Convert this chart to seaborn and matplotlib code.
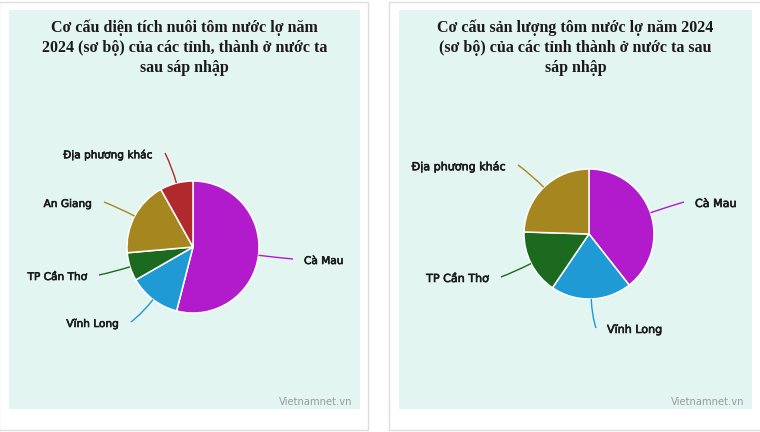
# Cơ cấu diện tích và sản lượng tôm nước lợ 2024 - hai biểu đồ tròn

import numpy as np
import matplotlib
matplotlib.use("Agg")
import matplotlib.pyplot as plt
import matplotlib.patheffects as pe
import seaborn as sns
from matplotlib.patches import Rectangle, PathPatch
from matplotlib.path import Path

sns.set_theme(style="white")
plt.rcParams["font.family"] = ["DejaVu Sans"]

# Dữ liệu (%)
tinh_dien_tich = ["Cà Mau", "Vĩnh Long", "TP Cần Thơ", "An Giang", "Địa phương khác"]
ty_le_dien_tich = [54.0, 12.7, 6.9, 18.3, 8.1]

tinh_san_luong = ["Cà Mau", "Vĩnh Long", "TP Cần Thơ", "Địa phương khác"]
ty_le_san_luong = [39.4, 20.1, 16.0, 24.5]

tieu_de_1 = "Cơ cấu diện tích nuôi tôm nước lợ năm\n2024 (sơ bộ) của các tỉnh, thành ở nước ta\nsau sáp nhập"
tieu_de_2 = "Cơ cấu sản lượng tôm nước lợ năm 2024\n(sơ bộ) của các tỉnh thành ở nước ta sau\nsáp nhập"

mau_dien_tich = sns.color_palette(["#b11bcc", "#1f9ad4", "#1c6a1f", "#a6871f", "#b0292c"])
mau_san_luong = sns.color_palette(["#b11bcc", "#1f9ad4", "#1c6a1f", "#a6871f"])

# vị trí đầu đường dẫn nhãn (so với tâm, px, y hướng xuống)
dau_nhan_1 = [(100, 12), (-62, 75), (-94, 28), (-89, -45), (-28, -94)]
dau_nhan_2 = [(95, -32), (7, 94), (-88, 43), (-71, -69)]

W, H = 760, 432
NEN = "#e2f5f0"

fig = plt.figure(figsize=(W / 100, H / 100), dpi=100)
fig.patch.set_facecolor("white")


def px_box(x0, y0, x1, y1):
    return [x0 / W, 1 - y1 / H, (x1 - x0) / W, (y1 - y0) / H]


# khung thẻ trắng
for x0, x1 in [(-1, 368), (389, 761)]:
    b = px_box(x0, 2, x1, 430)
    fig.add_artist(Rectangle((b[0], b[1]), b[2], b[3], transform=fig.transFigure,
                             facecolor="white", edgecolor="#dedede", lw=1, zorder=-10))


def ve_bieu_do(khung, tam, r, nhan, gia_tri, mau, dau_nhan, tieu_de, co_chu):
    x0, y0, x1, y1 = khung
    ax = fig.add_axes(px_box(x0, y0, x1, y1))
    w, h = x1 - x0, y1 - y0
    cx, cy = tam[0] - x0, y1 - tam[1]
    wedges, _ = ax.pie(gia_tri, colors=mau, startangle=90, counterclock=False,
                       center=(cx, cy), radius=r,
                       wedgeprops=dict(edgecolor="white", linewidth=1.1))
    ax.set_xlim(0, w)
    ax.set_ylim(0, h)
    ax.set_aspect("auto")
    ax.set_frame_on(True)
    for s in ax.spines.values():
        s.set_visible(False)
    ax.set_facecolor(NEN)
    ax.set_xticks([])
    ax.set_yticks([])

    dam = [pe.withStroke(linewidth=0.45, foreground="#1a1a1a")]
    for wg, ten, c, (dx, dy) in zip(wedges, nhan, mau, dau_nhan):
        goc = np.deg2rad((wg.theta1 + wg.theta2) / 2)
        p0 = (cx + r * np.cos(goc), cy + r * np.sin(goc))
        pc = (cx + (r + 16) * np.cos(goc), cy + (r + 16) * np.sin(goc))
        p2 = (cx + dx, cy - dy)
        duong = Path([p0, pc, p2], [Path.MOVETO, Path.CURVE3, Path.CURVE3])
        ax.add_patch(PathPatch(duong, facecolor="none", edgecolor=c, lw=1))
        if dx >= 0:
            ax.text(p2[0] + 11, p2[1] - 2, ten, ha="left", va="center",
                    fontsize=co_chu, color="#1a1a1a", path_effects=dam)
        else:
            ax.text(p2[0] - 12, p2[1] - 2, ten, ha="right", va="center",
                    fontsize=co_chu, color="#1a1a1a", path_effects=dam)

    ax.text(0.5, (h - 10) / h, tieu_de, transform=ax.transAxes, ha="center", va="top",
            fontsize=11.5, fontweight="bold", family="Liberation Serif",
            color="#1a1a1a", linespacing=1.32)
    ax.text((w - 8) / w, 7 / h, "Vietnamnet.vn", transform=ax.transAxes,
            ha="right", va="center", fontsize=7.2, color="#9a9a9a")


ve_bieu_do((9, 10, 360, 409), (193, 247), 66, tinh_dien_tich, ty_le_dien_tich,
           mau_dien_tich, dau_nhan_1, tieu_de_1, 7.6)
ve_bieu_do((399, 10, 752, 409), (589, 234), 65, tinh_san_luong, ty_le_san_luong,
           mau_san_luong, dau_nhan_2, tieu_de_2, 8.0)

plt.savefig("out.png", dpi=100)
